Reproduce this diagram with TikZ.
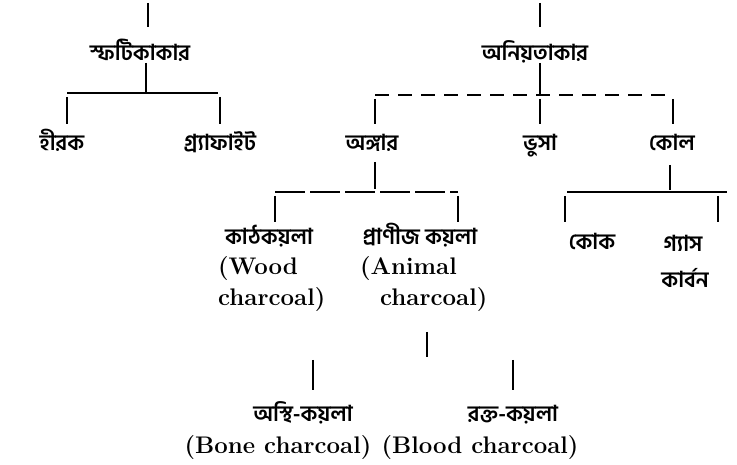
\documentclass[tikz,border=0pt]{standalone}
\usepackage{fontspec}
\newfontfamily\bnfont[Script=Bengali]{Hind Siliguri}
\usetikzlibrary{positioning}

\begin{document}
\begin{tikzpicture}[x=1pt,y=-1pt, bn_style/.style={inner sep=0pt, text height=14pt, text depth=4pt, font=\bnfont\bfseries\fontsize{22}{26}\selectfont},
			en_style/.style={inner sep=0pt, text height=16pt, text depth=5pt, font=\fontsize{24}{28}\selectfont\bfseries},
			tick_style/.style={line width=2.4pt},
			bar_style/.style={line width=1.3pt}]
			\useasboundingbox (0,0) rectangle (737,465);
			% first level
			\node[bn_style] (sphatik) at (140,56) {স্ফটিকাকার};
			\node[bn_style] (aniyat) at (535,56) {অনিয়তাকার};
			% second level
			\node[bn_style] (hirak) at (62,146) {হীরক};
			\node[bn_style] (graphite) at (220,146) {গ্র্যাফাইট};
			\node[bn_style] (angar) at (372,146) {অঙ্গার};
			\node[bn_style] (bhusa) at (540,146) {ভুসা};
			\node[bn_style] (kol) at (672,146) {কোল};
			% third level
			\node[bn_style] (kath) at (269,240) {কাঠকয়লা};
			\node[en_style, anchor=west] (wood_a) at (218,269) {(Wood};
			\node[en_style, anchor=west] (wood_b) at (218,300) {charcoal)};
			\node[bn_style] (pranij) at (420,240) {প্রাণীজ কয়লা};
			\node[en_style, anchor=west] (animal_a) at (360,269) {(Animal};
			\node[en_style, anchor=west] (animal_b) at (380,300) {charcoal)};
			\node[bn_style] (kok) at (592,245) {কোক};
			\node[bn_style] (gas) at (683,247) {গ্যাস};
			\node[bn_style] (carbon) at (685,283) {কার্বন};
			% fourth level
			\node[bn_style] (asthi) at (303,416) {অস্থি-কয়লা};
			\node[bn_style] (rakta) at (513,416) {রক্ত-কয়লা};
			\node[en_style] (bone) at (278,448) {(Bone charcoal)};
			\node[en_style] (blood) at (480,448) {(Blood charcoal)};
			
			% short vertical ticks
			\foreach \n/\x/\ya/\yb in {t1/148/3/27, t2/146/63/93, t3/67/97/124, t4/220/97/124,
				t5/540/3/27, t6/540/63/95, t7/375/99/124, t8/540/99/124, t9/673/99/124,
				t10/375/162/189, t11/275/196/222, t12/458/196/222,
				t13/670/165/190, t14/565/196/222, t15/718/196/222,
				t16/427/332/357, t17/313/360/390, t18/513/360/390}{
				\coordinate (\n_a) at (\x,\ya);
				\coordinate (\n_b) at (\x,\yb);
				\draw[tick_style] (\n_a) -- (\n_b);
			};
			
			% horizontal bars
			\coordinate (b1_l) at (67,93);
			\coordinate (b1_r) at (218,93);
			\coordinate (b2_l) at (375,95);
			\coordinate (b2_r) at (673,95);
			\coordinate (b3_l) at (275,192);
			\coordinate (b3_r) at (458,192);
			\coordinate (b4_l) at (567,192);
			\coordinate (b4_r) at (727,192);
			\draw[bar_style] (b1_l) -- (b1_r);
			\draw[bar_style, dash pattern=on 14pt off 9pt] (b2_l) -- (b2_r);
			\draw[bar_style, dash pattern=on 30pt off 5pt] (b3_l) -- (b3_r);
			\draw[bar_style] (b4_l) -- (b4_r);
		\end{tikzpicture}
\end{document}
